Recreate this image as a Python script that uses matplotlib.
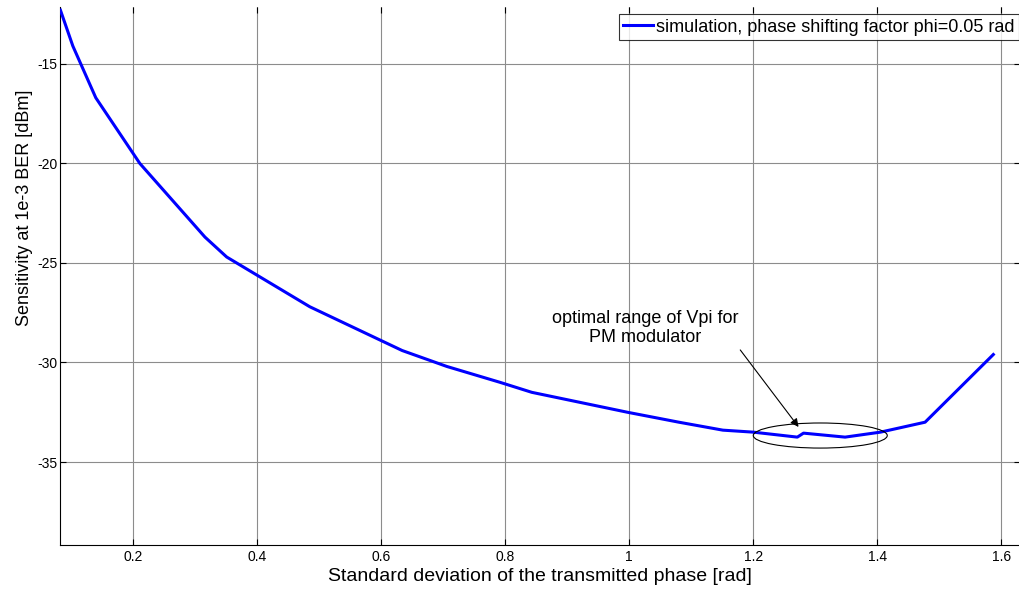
import matplotlib
matplotlib.use("Agg")
import matplotlib.pyplot as plt
from matplotlib.patches import Ellipse

plt.rcParams['font.family'] = ['Liberation Sans', 'DejaVu Sans']
plt.rcParams['axes.unicode_minus'] = False

# values
phase_std = [0.083, 0.103, 0.140, 0.211, 0.316, 0.351, 0.485, 0.634, 0.706, 0.792,
             0.843, 0.997, 1.080, 1.151, 1.200, 1.271, 1.281, 1.348, 1.405, 1.477, 1.587]
sensitivity = [-12.3, -14.1, -16.7, -20.0, -23.7, -24.7, -27.2, -29.4, -30.2, -31.0,
               -31.5, -32.5, -33.0, -33.4, -33.5, -33.75, -33.55, -33.75, -33.5, -33.0, -29.6]
x_ticks = [0.2, 0.4, 0.6, 0.8, 1.0, 1.2, 1.4, 1.6]
x_tick_labels = ["0.2", "0.4", "0.6", "0.8", "1", "1.2", "1.4", "1.6"]
y_ticks = [-35, -30, -25, -20, -15]

fig = plt.figure(figsize=(10.2, 5.9), dpi=100)
ax = fig.add_axes([60/1020, 45/590, 960/1020, 538/590])

ax.plot(phase_std, sensitivity, color=(0, 0, 1), linewidth=2.2,
        label="simulation, phase shifting factor phi=0.05 rad", zorder=3)

ax.set_xlim(0.0823, 1.630)
ax.set_ylim(-39.17, -12.14)
ax.set_xticks(x_ticks)
ax.set_xticklabels(x_tick_labels)
ax.set_yticks(y_ticks)
ax.tick_params(direction="in", length=4, labelsize=10, top=True, right=True, width=0.8)
ax.tick_params(axis="y", pad=2)
ax.spines["top"].set_visible(False)
ax.spines["right"].set_visible(False)
ax.grid(True, color="#8c8c8c", linewidth=0.8)
ax.set_axisbelow(True)

ax.set_xlabel("Standard deviation of the transmitted phase [rad]", fontsize=14, labelpad=3)
ax.set_ylabel("Sensitivity at 1e-3 BER [dBm]", fontsize=13)
ax.yaxis.set_label_coords(-0.028, 0.626)

ell = Ellipse((1.308, -33.67), 0.216, 1.26, fill=False, edgecolor="black", linewidth=0.8, zorder=4)
ax.add_patch(ell)
ax.annotate("", xy=(1.273, -33.24), xytext=(1.179, -29.37),
            arrowprops=dict(arrowstyle="-|>", color="black", lw=0.8, mutation_scale=12,
                            shrinkA=0, shrinkB=0))
ax.text(1.026, -28.27, "optimal range of Vpi for\nPM modulator", ha="center", va="center",
        fontsize=13, linespacing=1.2)

leg = ax.legend(loc="upper right", fontsize=13, frameon=True, fancybox=False,
                borderpad=0.25, handlelength=1.65, handletextpad=0.15,
                bbox_to_anchor=(0.9985, 0.987), borderaxespad=0)
leg.get_frame().set_edgecolor("black")
leg.get_frame().set_linewidth(0.8)

fig.savefig("out.png", dpi=100)
